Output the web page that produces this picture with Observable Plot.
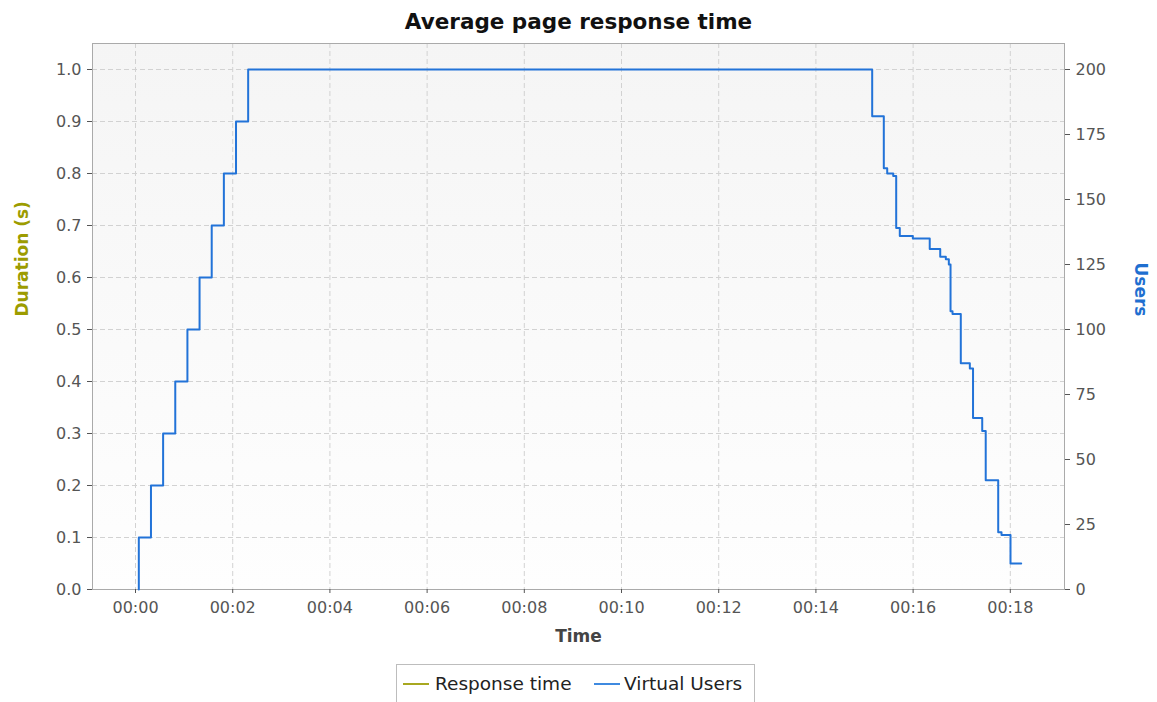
<!DOCTYPE html>
<html>
<head>
<meta charset="utf-8">
<script src="https://cdn.jsdelivr.net/npm/d3@7"></script>
<script src="https://cdn.jsdelivr.net/npm/@observablehq/plot@0.6"></script>
<style>
  html, body { margin: 0; padding: 0; background: #ffffff; }
  body { width: 1157px; height: 702px; position: relative; overflow: hidden; font-family: "DejaVu Sans", sans-serif; }
  #title { position: absolute; left: 0; top: 9px; width: 1157px; text-align: center; font-weight: bold; font-size: 21.5px; color: #111; }
  #chart { position: absolute; left: 0; top: 0; }
  #legend { position: absolute; left: 396px; top: 664px; width: 359px; height: 50px; border: 1px solid #bdbdbd; box-sizing: border-box; background: #fff; }
  .item { position: absolute; top: 8px; font-size: 18.5px; color: #222; white-space: nowrap; }
  .swatch { position: absolute; top: 18px; width: 26px; height: 2px; }
</style>
</head>
<body>
<div id="title">Average page response time</div>
<div id="chart"></div>
<div id="legend">
  <span class="swatch" style="left:6px;background:#a8a820"></span>
  <span class="item" style="left:38px">Response time</span>
  <span class="swatch" style="left:197px;background:#3f8ae0"></span>
  <span class="item" style="left:227px">Virtual Users</span>
</div>
<script>
// ---- data (time in minutes since test start) ----
const usersTime = [0.068, 0.068, 0.318, 0.568, 0.818, 1.068, 1.318, 1.568, 1.818, 2.068, 2.318,
  15.158, 15.397, 15.467, 15.591, 15.652, 15.726, 15.994, 16.342, 16.558, 16.673, 16.735, 16.770,
  16.811, 16.981, 17.167, 17.233, 17.422, 17.494, 17.751, 17.819, 18.004, 18.224];
const usersCount = [0, 20, 40, 60, 80, 100, 120, 140, 160, 180, 200,
  182, 162, 160, 159, 139, 136, 135, 131, 128, 127, 125, 107,
  106, 87, 85, 66, 61, 42, 22, 21, 10, 10];
const responseTime = []; // no response-time values are drawn in the reference
const xTicks = [0, 2, 4, 6, 8, 10, 12, 14, 16, 18];
const durationTicks = [0, 0.1, 0.2, 0.3, 0.4, 0.5, 0.6, 0.7, 0.8, 0.9, 1.0];
const userTicks = [0, 25, 50, 75, 100, 125, 150, 175, 200];
const usersMax = 200;

const usersData = usersTime.map((t, i) => ({t, users: usersCount[i]}));

function background(index, scales, values, dims) {
  const g = d3.create("svg:g");
  const grad = g.append("defs").append("linearGradient")
    .attr("id", "plotbg").attr("x1", 0).attr("y1", 0).attr("x2", 0).attr("y2", 1);
  grad.append("stop").attr("offset", "0%").attr("stop-color", "#f5f5f5");
  grad.append("stop").attr("offset", "100%").attr("stop-color", "#fefefe");
  g.append("rect")
    .attr("x", dims.marginLeft).attr("y", dims.marginTop)
    .attr("width", dims.width - dims.marginLeft - dims.marginRight)
    .attr("height", dims.height - dims.marginTop - dims.marginBottom)
    .attr("fill", "url(#plotbg)");
  return g.node();
}

const fmtTime = d => "00:" + String(d).padStart(2, "0");

const chart = Plot.plot({
  width: 1157,
  height: 660,
  marginTop: 43,
  marginBottom: 71,
  marginLeft: 92,
  marginRight: 93,
  style: {fontFamily: "DejaVu Sans, sans-serif", fontSize: "16px", background: "transparent", overflow: "visible"},
  x: {domain: [-0.885, 19.115]},
  y: {domain: [0, 1.05]},
  marks: [
    background,
    Plot.gridX(xTicks, {stroke: "#d2d2d2", strokeOpacity: 1, strokeDasharray: "5,3"}),
    Plot.gridY(durationTicks, {stroke: "#d2d2d2", strokeOpacity: 1, strokeDasharray: "5,3"}),
    Plot.frame({stroke: "#aaaaaa"}),
    Plot.axisX(xTicks, {tickFormat: fmtTime, tickSize: 4, tickPadding: 8, label: null, color: "#555"}),
    Plot.axisY(durationTicks, {anchor: "left", tickFormat: d3.format(".1f"), tickSize: 5, tickPadding: 6, label: null, color: "#555"}),
    Plot.axisY(userTicks.map(u => u / usersMax), {anchor: "right", tickFormat: d => String(Math.round(d * usersMax)), tickSize: 5, tickPadding: 6, label: null, color: "#555"}),
    Plot.line(responseTime, {x: "t", y: "v", stroke: "#a8a820", strokeWidth: 2}),
    Plot.line(usersData, {x: "t", y: d => d.users / usersMax, curve: "step-after", stroke: "#2273d8", strokeWidth: 2}),
    Plot.text(["Time"], {frameAnchor: "bottom", dy: 47, lineAnchor: "middle", text: d => d, fontWeight: "bold", fontSize: 17, fill: "#444"}),
    Plot.text(["Duration (s)"], {frameAnchor: "left", dx: -70, rotate: -90, text: d => d, fontWeight: "bold", fontSize: 17, fill: "#9c9c00"}),
    Plot.text(["Users"], {frameAnchor: "right", dx: 76, rotate: 90, text: d => d, fontWeight: "bold", fontSize: 17, fill: "#1f6fd0"})
  ]
});
document.getElementById("chart").appendChild(chart);
</script>
</body>
</html>
